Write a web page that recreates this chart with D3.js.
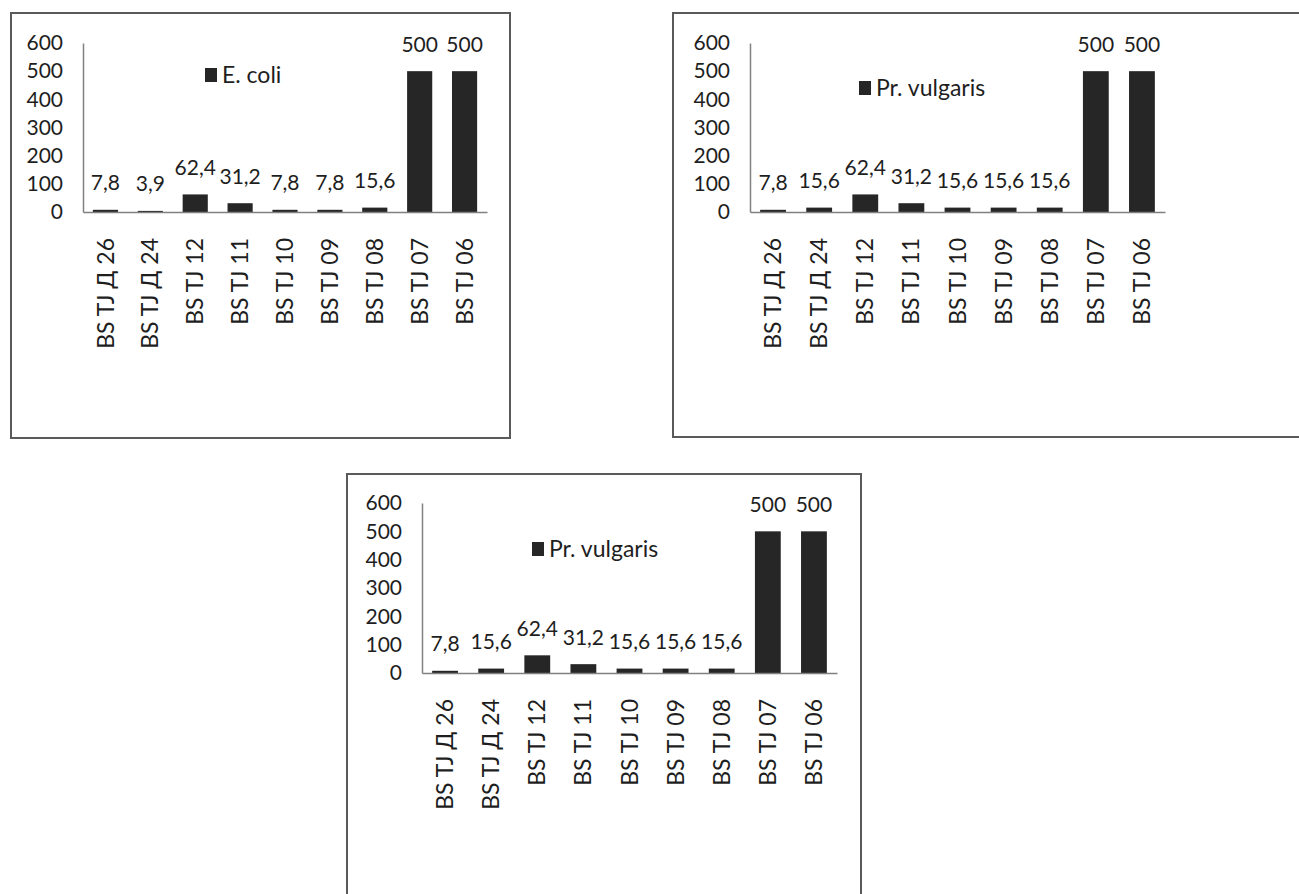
<!DOCTYPE html>
<html>
<head>
<meta charset="utf-8">
<script src="https://cdn.jsdelivr.net/npm/d3@7"></script>
<style>
  html, body { margin: 0; padding: 0; background: #fff; }
  svg { display: block; }
  text { font-family: Lato, "Open Sans", sans-serif; fill: #1e1e1e; }
</style>
</head>
<body>
<svg id="chart" width="1299" height="894"></svg>
<script>
// Strains (x categories), shared by all three charts
const categories = ["BS TJ Д 26", "BS TJ Д 24", "BS TJ 12", "BS TJ 11", "BS TJ 10",
                    "BS TJ 09", "BS TJ 08", "BS TJ 07", "BS TJ 06"];

// MIC values per organism
const ecoliValues      = [7.8, 3.9, 62.4, 31.2, 7.8, 7.8, 15.6, 500, 500];
const vulgarisValues   = [7.8, 15.6, 62.4, 31.2, 15.6, 15.6, 15.6, 500, 500];
const vulgarisValues2  = [7.8, 15.6, 62.4, 31.2, 15.6, 15.6, 15.6, 500, 500];

// Series names shown in each legend
const seriesNames = ["E. coli", "Pr. vulgaris", "Pr. vulgaris"];

// Y axis ticks
const yTicks = [0, 100, 200, 300, 400, 500, 600];

const fmt = v => String(v).replace(".", ",");
const NUM_FONT = "21px";   // tick and value labels
const TXT_FONT = "23px";   // category and legend labels

const svg = d3.select("#chart");

// Layout for each chart box
const panels = [
  { values: ecoliValues, name: seriesNames[0],
    frame: { x: 11, y: 13, w: 499, h: 425 },
    plot: { left: 83, right: 487, top: 43, bottom: 212 },
    legend: { x: 205, y: 75 } },
  { values: vulgarisValues, name: seriesNames[1],
    frame: { x: 673, y: 13, w: 700, h: 424 },
    plot: { left: 750, right: 1165, top: 43, bottom: 212 },
    legend: { x: 859, y: 88 } },
  { values: vulgarisValues2, name: seriesNames[2],
    frame: { x: 347, y: 474, w: 514, h: 500 },
    plot: { left: 422, right: 837, top: 503, bottom: 673 },
    legend: { x: 532, y: 549 } }
];

panels.forEach(p => {
  const g = svg.append("g");

  // chart border
  g.append("rect")
    .attr("x", p.frame.x).attr("y", p.frame.y)
    .attr("width", p.frame.w).attr("height", p.frame.h)
    .attr("fill", "none").attr("stroke", "#5a5a5a").attr("stroke-width", 2);

  const x = d3.scaleBand()
    .domain(categories)
    .range([p.plot.left, p.plot.right])
    .paddingInner(0.44)
    .paddingOuter(0.22);

  const y = d3.scaleLinear()
    .domain([0, 600])
    .range([p.plot.bottom, p.plot.top]);

  // y axis
  const yAxis = g.append("g")
    .attr("transform", `translate(${p.plot.left},0)`)
    .call(d3.axisLeft(y).tickValues(yTicks).tickSizeInner(0).tickSizeOuter(0).tickPadding(20));
  yAxis.select(".domain").attr("stroke", "#808080").attr("stroke-width", 1.5);
  yAxis.selectAll("text")
    .style("font-size", NUM_FONT)
    .attr("fill", "#1e1e1e");

  // bars
  g.selectAll("rect.bar")
    .data(p.values)
    .join("rect")
    .attr("class", "bar")
    .attr("x", (d, i) => x(categories[i]))
    .attr("width", x.bandwidth())
    .attr("y", d => y(d))
    .attr("height", d => y(0) - y(d))
    .attr("fill", "#262626");

  // value labels above bars
  g.selectAll("text.val")
    .data(p.values)
    .join("text")
    .attr("class", "val")
    .attr("x", (d, i) => x(categories[i]) + x.bandwidth() / 2)
    .attr("y", d => y(d) - 27)
    .attr("dy", "0.35em")
    .attr("text-anchor", "middle")
    .style("font-size", NUM_FONT)
    .text(d => fmt(d));

  // x axis with vertical category labels
  const xAxis = g.append("g")
    .attr("transform", `translate(0,${p.plot.bottom})`)
    .call(d3.axisBottom(x).tickSizeInner(0).tickSizeOuter(0));
  xAxis.select(".domain").attr("stroke", "#808080").attr("stroke-width", 1.5);
  xAxis.selectAll("text")
    .attr("transform", "rotate(-90)")
    .attr("x", -26)
    .attr("y", 0)
    .attr("dy", "0.35em")
    .attr("text-anchor", "end")
    .attr("fill", "#1e1e1e")
    .style("font-size", TXT_FONT);

  // legend
  const lg = g.append("g").attr("transform", `translate(${p.legend.x},${p.legend.y})`);
  lg.append("rect")
    .attr("x", 0).attr("y", -7)
    .attr("width", 12).attr("height", 14)
    .attr("fill", "#262626");
  lg.append("text")
    .attr("x", 17).attr("y", 0)
    .attr("dy", "0.35em")
    .style("font-size", TXT_FONT)
    .text(p.name);
});
</script>
</body>
</html>
